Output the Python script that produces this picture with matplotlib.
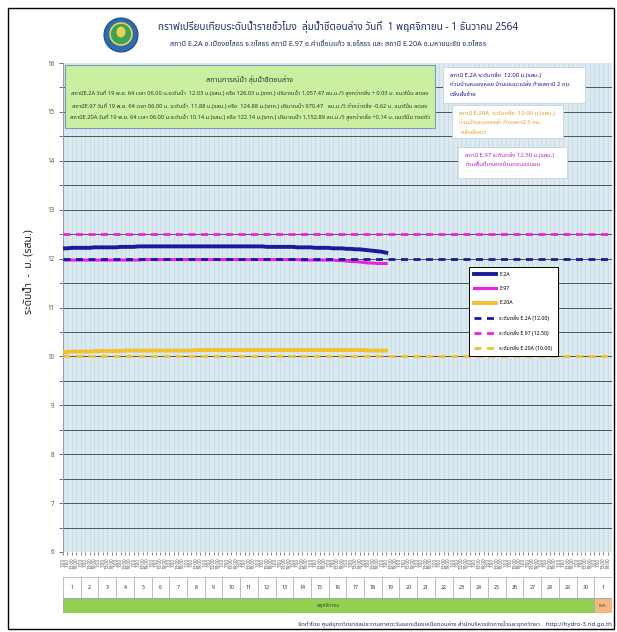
import matplotlib
matplotlib.use('Agg')
import matplotlib.pyplot as plt
from matplotlib import font_manager as fm
from matplotlib.ft2font import FT2Font
from matplotlib.patches import Rectangle, Ellipse
import numpy as np

# -------------------------------------------------------------------------------------------------------------------- #
# Data (6-hourly, 1 Nov 01:00 -> 19 Nov 07:00)
# -------------------------------------------------------------------------------------------------------------------- #

e2a = [12.21, 12.21, 12.22, 12.22,  12.22, 12.22, 12.22, 12.23,  12.23, 12.23, 12.23, 12.23,
       12.23, 12.24, 12.24, 12.24,  12.24, 12.25, 12.25, 12.25,  12.25, 12.25, 12.25, 12.25,
       12.25, 12.25, 12.25, 12.25,  12.25, 12.25, 12.25, 12.25,  12.25, 12.25, 12.25, 12.25,
       12.25, 12.25, 12.25, 12.25,  12.25, 12.25, 12.25, 12.25,  12.25, 12.25, 12.24, 12.24,
       12.24, 12.24, 12.24, 12.24,  12.24, 12.23, 12.23, 12.23,  12.23, 12.22, 12.22, 12.22,
       12.22, 12.21, 12.21, 12.21,  12.20, 12.20, 12.19, 12.19,  12.18, 12.17, 12.16, 12.15,
       12.14, 12.12]
e97 = [11.97, 11.97, 11.97, 11.97,  11.97, 11.97, 11.97, 11.97,  11.97, 11.97, 11.97, 11.97,
       11.97, 11.97, 11.97, 11.97,  11.97, 11.97, 11.98, 11.98,  11.98, 11.98, 11.98, 11.98,
       11.98, 11.98, 11.98, 11.98,  11.98, 11.98, 11.98, 11.98,  11.98, 11.98, 11.98, 11.98,
       11.98, 11.98, 11.98, 11.98,  11.98, 11.98, 11.98, 11.98,  11.98, 11.98, 11.98, 11.98,
       11.98, 11.98, 11.98, 11.98,  11.98, 11.98, 11.97, 11.97,  11.97, 11.97, 11.97, 11.97,
       11.97, 11.97, 11.96, 11.96,  11.95, 11.94, 11.94, 11.93,  11.92, 11.91, 11.91, 11.90,
       11.90, 11.90]
e20a = [10.09, 10.09, 10.10, 10.10,  10.10, 10.10, 10.10, 10.11,  10.11, 10.11, 10.11, 10.11,
        10.11, 10.11, 10.12, 10.12,  10.12, 10.12, 10.12, 10.12,  10.12, 10.12, 10.12, 10.12,
        10.12, 10.12, 10.12, 10.12,  10.12, 10.12, 10.13, 10.13,  10.13, 10.13, 10.13, 10.13,
        10.13, 10.13, 10.13, 10.13,  10.13, 10.13, 10.13, 10.13,  10.13, 10.13, 10.13, 10.13,
        10.13, 10.13, 10.13, 10.13,  10.13, 10.13, 10.13, 10.13,  10.13, 10.13, 10.13, 10.13,
        10.13, 10.13, 10.13, 10.13,  10.13, 10.13, 10.13, 10.13,  10.13, 10.12, 10.12, 10.12,
        10.12, 10.12]

bank_levels = {'E.2A': 12.00, 'E.97': 12.50, 'E.20A': 10.00}

hour_labels = ['1:00', '7:00', '13:00', '19:00']
day_numbers = list(range(1, 31)) + [1]
month_labels = ['พฤศจิกายน', 'ธ.ค.']
month_days = [30, 1]

title = 'กราฟเปรียบเทียบระดับน้ำรายชั่วโมง  ลุ่มน้ำชีตอนล่าง วันที่  1 พฤศจิกายน - 1 ธันวาคม 2564'
subtitle = ('สถานี E.2A อ.เมืองยโสธร จ.ยโสธร สถานี E.97 อ.คำเขื่อนแก้ว จ.ยโสธร '
            'และ สถานี E.20A อ.มหาชนะชัย จ.ยโสธร')
situation_title = 'สถานการณ์น้ำ ลุ่มน้ำชีตอนล่าง'
situation_lines = [
    'สถานีE.2A วันที่ 19 พ.ย. 64 เวลา 06.00 น.ระดับน้ำ  12.03 ม.(รสม.) หรือ 126.03 ม.(รทก.) ปริมาณน้ำ 1,057.47 ลบ.ม./วิ สูงกว่าตลิ่ง + 0.03 ม. แนวโน้ม ลดลง',
    'สถานีE.97 วันที่ 19 พ.ย. 64 เวลา 06.00 น. ระดับน้ำ  11.88 ม.(รสม.) หรือ  124.88 ม.(รทก.) ปริมาณน้ำ 970.47   ลบ.ม./วิ ต่ำกว่าตลิ่ง -0.62 ม. แนวโน้ม ลดลง',
    'สถานีE.20A วันที่ 19 พ.ย. 64 เวลา 06.00 น.ระดับน้ำ 10.14 ม.(รสม.) หรือ 122.14 ม.(รทก.) ปริมาณน้ำ 1,152.89 ลบ.ม./วิ สูงกว่าตลิ่ง +0.14 ม. แนวโน้ม ทรงตัว',
]
footer = ('จัดทำโดย ศูนย์อุทกวิทยาชลประทานภาคตะวันออกเฉียงเหนือตอนล่าง '
          'สำนักบริหารจัดการน้ำและอุทกวิทยา    http://hydro-3.rid.go.th')

# -------------------------------------------------------------------------------------------------------------------- #
# Fonts - need a family with Thai glyphs
# -------------------------------------------------------------------------------------------------------------------- #

def find_thai_family():
    found = []
    for f in fm.fontManager.ttflist:
        try:
            if 0x0E01 in FT2Font(f.fname).get_charmap():
                found.append(f.name)
        except Exception:
            pass
    for pref in ['Noto Sans Thai', 'Noto Sans Thai UI', 'Loma', 'Garuda', 'Tlwg Typo', 'DejaVu Sans']:
        if pref in found:
            return pref
    return found[0] if found else 'DejaVu Sans'

thai_font = find_thai_family()
plt.rcParams['font.family'] = [thai_font, 'DejaVu Sans']

W, H = 617, 632
def fx(px):
    return px / W
def fy(py):
    return 1 - py / H

navy = '#1a1a9c'
magenta = '#ee22dd'
gold = '#f2c12e'
txt_navy = '#1f3070'

# -------------------------------------------------------------------------------------------------------------------- #
# Figure
# -------------------------------------------------------------------------------------------------------------------- #

fig = plt.figure(figsize=(W / 100, H / 100), dpi=100)
fig.patches.append(Rectangle((fx(8), fy(629)), fx(606), 621 / H, transform=fig.transFigure,
                             facecolor='none', edgecolor='black', linewidth=1.0))

# logo
fig.patches.append(Ellipse((fx(121), fy(35)), 34 / W, 34 / H, transform=fig.transFigure,
                           facecolor='#2b6cb0', edgecolor='#1f4f8a', linewidth=0.8))
fig.patches.append(Ellipse((fx(121), fy(34)), 22 / W, 22 / H, transform=fig.transFigure,
                           facecolor='#3aa655', edgecolor='#f0d050', linewidth=1.2))
fig.patches.append(Ellipse((fx(121), fy(32)), 9 / W, 11 / H, transform=fig.transFigure,
                           facecolor='#f0d050', edgecolor='none'))

fig.text(fx(338), fy(27), title, ha='center', va='center', fontsize=7.2, fontweight='bold', color=txt_navy)
fig.text(fx(328), fy(45), subtitle, ha='center', va='center', fontsize=5.2, color=txt_navy)

# main axes
left, right, top, bottom = 63, 612, 63, 552
ax = fig.add_axes([fx(left), fy(bottom), (right - left) / W, (bottom - top) / H])
ax.set_facecolor('#dbe9f1')

n_days = 31
x_end = n_days * 24
x = np.arange(len(e2a)) * 6

ax.plot(x, e2a, color=navy, linewidth=2.8, label='E.2A', zorder=4)
ax.plot(x, e97, color=magenta, linewidth=2.2, label='E.97', zorder=3)
ax.plot(x, e20a, color=gold, linewidth=2.8, label='E.20A', zorder=4)

ax.axhline(bank_levels['E.2A'], color=navy, linewidth=2.0, linestyle=(0, (2.5, 2)), zorder=5,
           label='ระดับตลิ่ง E.2A (12.00)')
ax.axhline(bank_levels['E.97'], color=magenta, linewidth=2.0, linestyle=(0, (2.5, 2)), zorder=5,
           label='ระดับตลิ่ง E.97 (12.50)')
ax.axhline(bank_levels['E.20A'], color=gold, linewidth=2.0, linestyle=(0, (2.5, 2)), zorder=5,
           label='ระดับตลิ่ง E.20A (10.00)')

ax.set_xlim(0, x_end)
ax.set_ylim(6, 16)
ax.set_yticks(np.arange(6, 16.5, 1))
ax.set_yticklabels([f'{v:g}' for v in np.arange(6, 16.5, 1)])
ax.set_yticks(np.arange(6.5, 16, 1), minor=True)
ax.tick_params(axis='y', which='both', length=3, width=0.6, color='#555555', labelsize=4.5,
               labelcolor='#555555', pad=3)

tick_pos = np.arange(n_days * 4) * 6
ax.set_xticks(tick_pos)
ax.set_xticklabels(hour_labels * n_days, rotation=90, fontsize=3.2, color='#555555')
ax.tick_params(axis='x', length=2.5, width=0.5, color='#555555', pad=1.5)

for xv in tick_pos[1:]:
    ax.axvline(xv, color='#c4d8e4', linewidth=0.5, zorder=1)
for yv in np.arange(6.5, 16, 0.5):
    ax.axhline(yv, color='#3a3a3a', linewidth=0.6, zorder=1)

for s in ['top', 'right', 'bottom']:
    ax.spines[s].set_visible(False)
ax.spines['left'].set_color('#8aa0b0')

leg = ax.legend(loc='upper left', bbox_to_anchor=((466 - left) / (right - left), (bottom - 264) / (bottom - top)),
                fontsize=3.8, frameon=True, fancybox=False, edgecolor='black', framealpha=1,
                handlelength=4.2, labelspacing=1.75, borderpad=1.0, handletextpad=0.6)
leg.get_frame().set_linewidth(0.7)

# y label
fig.text(fx(30), fy(272), 'ระดับน้ำ  -  ม. (รสม.)', rotation=90, ha='center', va='center',
         fontsize=7.5, fontweight='bold', color='#222222')

# situation box
fig.patches.append(Rectangle((fx(65), fy(128)), 370 / W, 63 / H, transform=fig.transFigure,
                             facecolor='#c8f0a0', edgecolor='#7a9ab8', linewidth=0.8, zorder=6))
fig.text(fx(250), fy(80), situation_title, ha='center', va='center', fontsize=5.2,
         fontweight='bold', color='#333333', zorder=7)
for i, line in enumerate(situation_lines):
    fig.text(fx(250), fy(94 + i * 12), line, ha='center', va='center', fontsize=4.1,
             color='#333333', zorder=7)

# bank-level note boxes
notes = [
    (443, 67, 142, 36, navy, ['สถานี E.2A ระดับตลิ่ง  12.00 ม.(รสม.)',
                              'ท่วมบ้านหนองหอย บ้านเขมมะเปล่ง ท้ายสถานี 2 กม.',
                              'ตลิ่งฝั่งซ้าย']),
    (452, 105, 111, 33, '#e0a020', ['สถานี E.20A  ระดับตลิ่ง  10.00 ม.(รสม.)',
                                    'ท่วมบ้านหนองหล่า ท้ายสถานี 5 กม.',
                                    ' ตลิ่งฝั่งขวา']),
    (458, 147, 109, 31, '#c020c0', ['สถานี E.97 ระดับตลิ่ง 12.50 ม.(รสม.)',
                                    'ท่วมพื้นที่เกษตรบ้านดอนขอนยม']),
]
for nx, ny, nw, nh, col, lines in notes:
    fig.patches.append(Rectangle((fx(nx), fy(ny + nh)), nw / W, nh / H, transform=fig.transFigure,
                                 facecolor='white', edgecolor='#c8d4de', linewidth=0.6, zorder=6))
    for i, line in enumerate(lines):
        fig.text(fx(nx + 7), fy(ny + 8 + i * 9.5), line, ha='left', va='center', fontsize=4.3,
                 color=col, zorder=7)

# day table under the axis
tab = fig.add_axes([fx(left), fy(613), (right - left) / W, 36 / H])
tab.set_xlim(0, n_days)
tab.set_ylim(0, 36)
tab.axis('off')
for i, d in enumerate(day_numbers):
    tab.add_patch(Rectangle((i, 15), 1, 21, facecolor='white', edgecolor='#b0b8c0', linewidth=0.6))
    tab.text(i + 0.5, 25.5, str(d), ha='center', va='center', fontsize=3.8, color='#333333')
start = 0
for lab, nd, col in zip(month_labels, month_days, ['#92d050', '#f6b883']):
    tab.add_patch(Rectangle((start, 0), nd, 15, facecolor=col, edgecolor='#a0a8b0', linewidth=0.6))
    tab.text(start + nd / 2, 7.5, lab, ha='center', va='center', fontsize=3.6, color='#444444')
    start += nd

fig.text(fx(612), fy(625), footer, ha='right', va='center', fontsize=4.3, color=txt_navy)

fig.savefig('out.png', dpi=100)
